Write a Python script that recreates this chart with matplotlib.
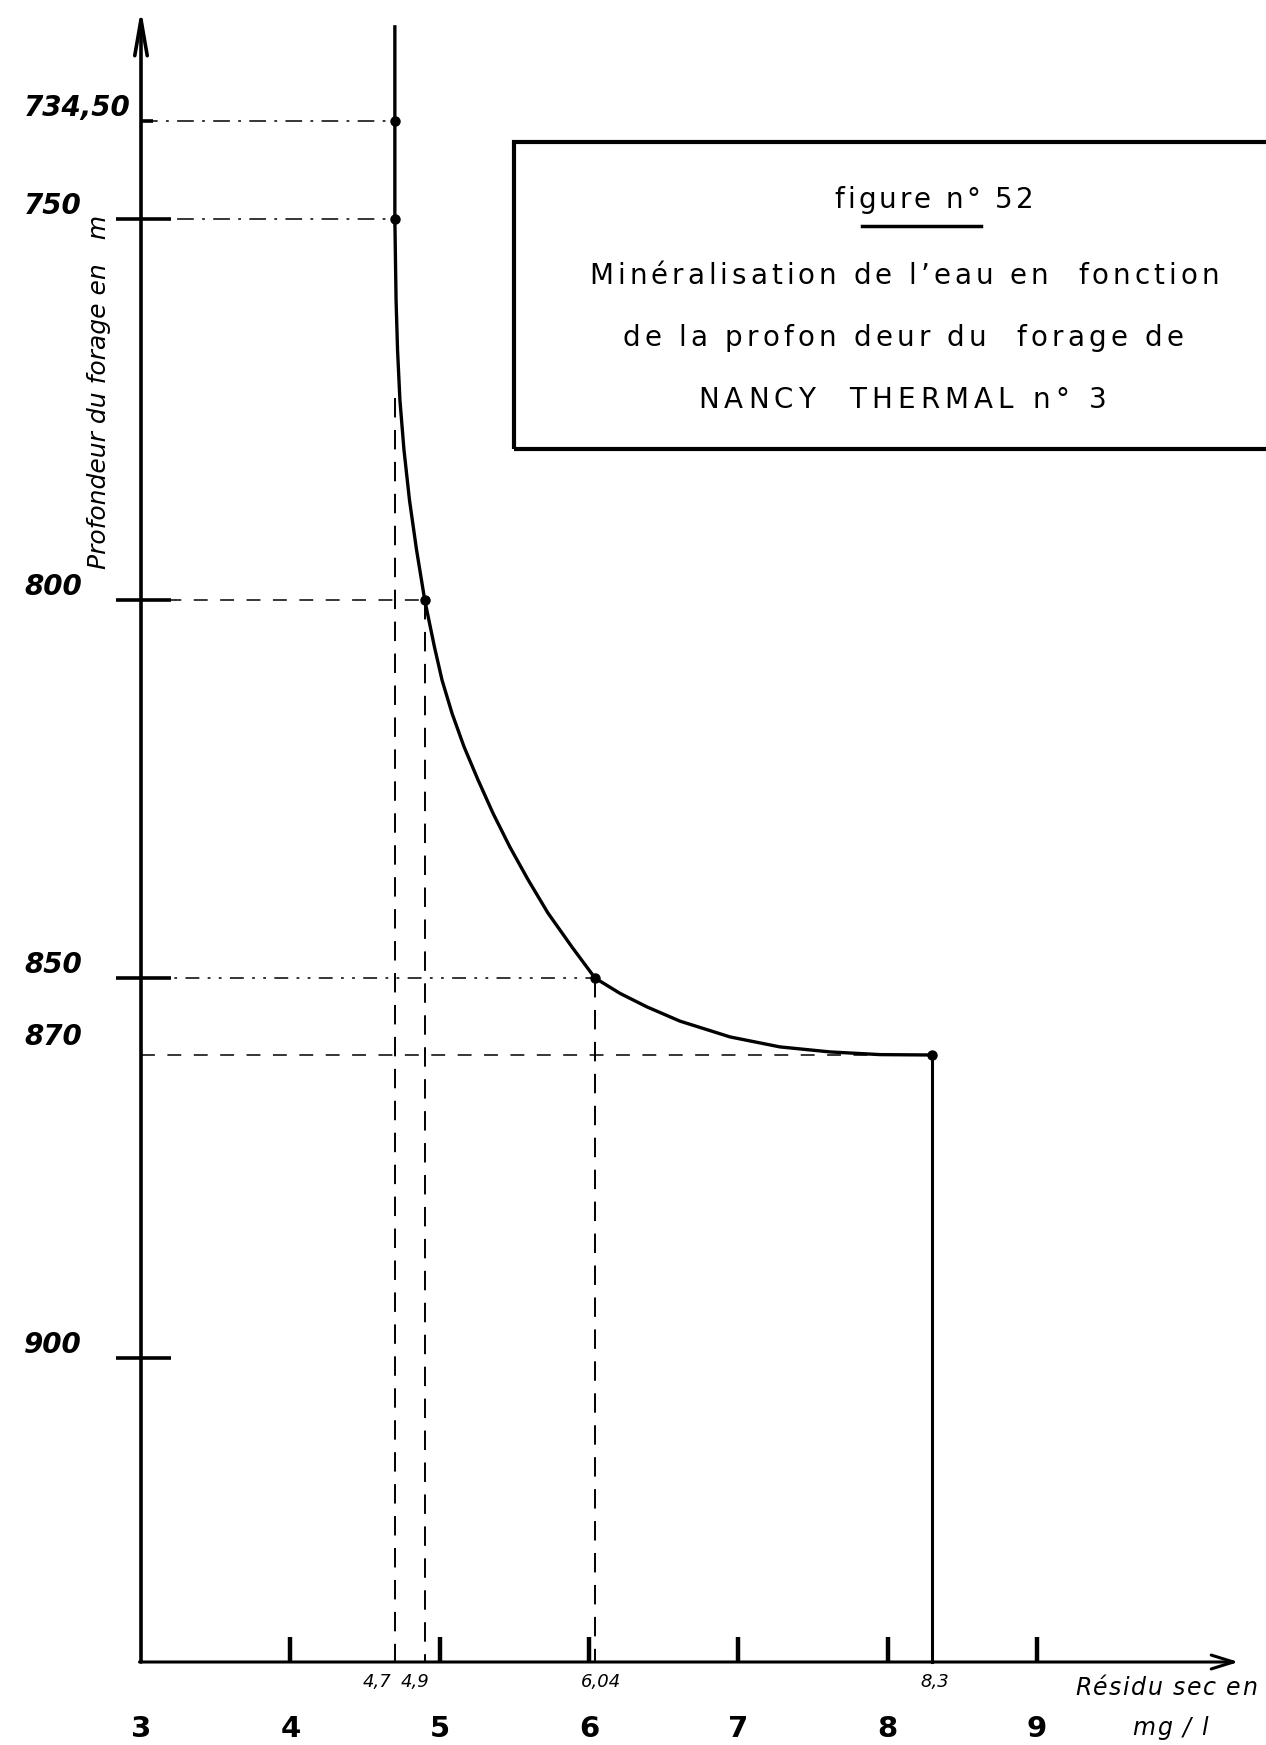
import numpy as np
import matplotlib
matplotlib.use('Agg')
import matplotlib.pyplot as plt
from matplotlib.patches import Rectangle

plt.rcParams['font.family'] = 'DejaVu Sans'
plt.rcParams['lines.scale_dashes'] = False

W, H = 1266, 1745

# measured points: dry residue (mg/l) vs depth (m)
residue = [4.7, 4.7, 4.9, 6.04, 8.3]
depth = [734.5, 750, 800, 850, 870]

# hand-drawn curve through the measurements
curve_residue = [4.70, 4.70, 4.70, 4.708, 4.718, 4.734, 4.761, 4.798, 4.845, 4.90,
                 4.965, 5.016, 5.083, 5.163, 5.257, 5.357, 5.471, 5.592, 5.725, 5.886,
                 6.04, 6.208, 6.388, 6.609, 6.944, 7.279, 7.614, 7.949, 8.30]
curve_depth = [719.6, 734.5, 750.0, 760.6, 767.2, 773.8, 780.3, 786.9, 793.4, 800.0,
               806.2, 810.6, 815.0, 819.4, 823.8, 828.2, 832.7, 837.0, 841.4, 845.9,
               850.0, 854.0, 857.5, 861.2, 865.3, 867.9, 869.2, 869.9, 870.0]

depth_ticks = [734.5, 750, 800, 850, 870, 900]
depth_labels = ['734,50', '750', '800', '850', '870', '900']
residue_ticks = [3, 4, 5, 6, 7, 8, 9]
residue_labels = ['3', '4', '5', '6', '7', '8', '9']
point_values = [4.7, 4.9, 6.04, 8.3]
point_labels = ['4,7', '4,9', '6,04', '8,3']

# the depth axis is drawn with uneven spacing: depth -> pixel row
scale_depth = [700, 734.5, 750, 800, 850, 870, 900, 960]
scale_pix = [-97, 121, 219, 600, 978, 1055, 1358, 1814]


def fwd(d):
    return np.interp(d, scale_depth, scale_pix)


def inv(p):
    return np.interp(p, scale_pix, scale_depth)


X0 = 3            # residue at the origin
Y0 = 940          # depth at the residue axis
PX_PER_UNIT = 149.33

fig = plt.figure(figsize=(W / 100, H / 100), dpi=100)
ax = fig.add_axes([0, 0, 1, 1])
ax.set_yscale('function', functions=(fwd, inv))
ax.set_xlim(X0 - 141 / PX_PER_UNIT, X0 + (W - 141) / PX_PER_UNIT)
ax.set_ylim(inv(H), inv(0))
ax.axis('off')


def px(x, y):
    return (x / W, 1 - y / H)


renderer = fig.canvas.get_renderer()


def text_width(s, size, **kw):
    t = fig.text(0, 0, s, fontsize=size, **kw)
    w = t.get_window_extent(renderer).width
    t.remove()
    return w


def tracked_text(cx, cy, s, size, track, **kw):
    """Letter-spaced text centred on (cx, cy) in pixels."""
    space = text_width('n n', size, **kw) - text_width('nn', size, **kw)
    widths = [space if ch == ' ' else text_width(ch, size, **kw) for ch in s]
    total = sum(widths) + track * (len(s) - 1)
    em = size * 100 / 72
    base = cy + 0.365 * em
    x = cx - total / 2
    for ch, w in zip(s, widths):
        if ch != ' ':
            fig.text(x / W, 1 - base / H, ch, ha='left', va='baseline',
                     fontsize=size, **kw)
        x += w + track


# axes with arrows
ax.annotate('', xy=(X0, inv(9)), xytext=(X0, Y0),
            arrowprops=dict(arrowstyle='->,head_length=2.6,head_width=0.45',
                            lw=2.6, color='k', shrinkA=0, shrinkB=0,
                            mutation_scale=10))
ax.annotate('', xy=(10.35, Y0), xytext=(X0 - 0.01, Y0),
            arrowprops=dict(arrowstyle='->,head_length=1.6,head_width=0.5',
                            lw=2.2, color='k', shrinkA=0, shrinkB=0,
                            mutation_scale=10))

# depth ticks
for d in depth_ticks:
    if d == 734.5:
        ax.plot([X0, X0 + 0.08], [d, d], color='k', lw=2.6, solid_capstyle='butt')
    elif d != 870:
        ax.plot([X0 - 0.17, X0 + 0.2], [d, d], color='k', lw=2.6, solid_capstyle='butt')
for d, lab in zip(depth_ticks, depth_labels):
    dy = 18 if d == 870 else 13
    ax.annotate(lab, xy=(X0 - 117 / PX_PER_UNIT, d), xytext=(0, dy),
                textcoords='offset pixels', ha='left', va='center',
                fontsize=20, fontstyle='italic', fontweight='bold')

# residue ticks
for v in residue_ticks[1:]:
    ax.plot([v, v], [Y0, Y0 - 3.3], color='k', lw=3.2, solid_capstyle='butt')
for v, lab in zip(residue_ticks, residue_labels):
    ax.annotate(lab, xy=(v, Y0), xytext=(0, -67), textcoords='offset pixels',
                ha='center', va='center', fontsize=21, fontweight='bold')
for v, lab, dx in zip(point_values, point_labels, [-18, -10, 6, 2]):
    ax.annotate(lab, xy=(v, Y0), xytext=(dx, -20), textcoords='offset pixels',
                ha='center', va='center', fontsize=13, fontstyle='italic')

# reference lines from the axes to each point
h_styles = [(0, (12, 6, 2, 6)), (0, (12, 6, 2, 6)), (0, (10, 9)),
            (0, (10, 6, 2, 6, 2, 6)), (0, (10, 9))]
for r, d, ls in zip(residue, depth, h_styles):
    ax.plot([X0, r], [d, d], color='k', lw=1.1, linestyle=ls)
drop_tops = [773.5, depth[2], depth[3]]
for r, d in zip(residue[1:4], drop_tops):
    ax.plot([r, r], [d, Y0], color='k', lw=1.4, linestyle=(0, (14, 9)))
ax.plot([residue[-1], residue[-1]], [depth[-1], Y0], color='k', lw=2.2)

# curve and points
ax.plot(curve_residue, curve_depth, color='k', lw=2.4, solid_joinstyle='round')
ax.plot(residue, depth, 'o', color='k', ms=6.5)

# axis titles
ax.text(*px(99, 392), 'Profondeur du forage en   m', transform=ax.transAxes,
        rotation=90, ha='center', va='center', fontsize=18, fontstyle='italic')
tracked_text(1166, 1686, 'Résidu sec en', 17, 1.5, fontstyle='italic')
tracked_text(1170, 1726, 'mg / l', 17, 1.5, fontstyle='italic')

# title box
x0, y0 = px(514, 449)
box = Rectangle((x0, y0), 1.05 - x0, (449 - 142) / H, transform=ax.transAxes,
                fill=False, lw=3, edgecolor='k', clip_on=True)
ax.add_patch(box)
tracked_text(934, 198, 'figure n° 52', 20, 3)
ax.plot([862 / W, 981 / W], [1 - 226 / H] * 2, transform=ax.transAxes,
        color='k', lw=2.5)
tracked_text(904, 274, "Minéralisation de l’eau en  fonction", 20, 4)
tracked_text(903, 336, 'de la profon deur du  forage de', 20, 4.2)
tracked_text(902, 398, 'NANCY  THERMAL n° 3', 20, 5.2)

fig.savefig('out.png', dpi=100, facecolor='white')
